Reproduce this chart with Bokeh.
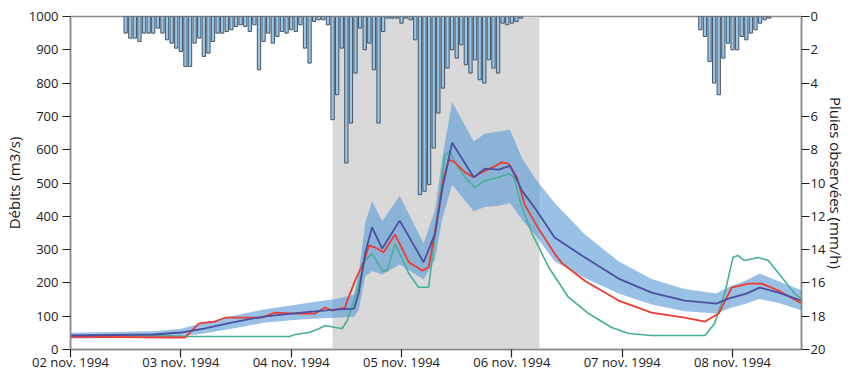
from bokeh.plotting import figure
from bokeh.models import Range1d, LinearAxis, FixedTicker, BoxAnnotation
from bokeh.embed import file_html
from bokeh.resources import INLINE

# ---------------- data ----------------
# time in hours since 02 nov. 1994 00:00
day_ticks = [0, 24, 48, 72, 96, 120, 144]
day_labels = ["02 nov. 1994", "03 nov. 1994", "04 nov. 1994", "05 nov. 1994",
              "06 nov. 1994", "07 nov. 1994", "08 nov. 1994"]

# hourly observed rain (mm/h)
rain_hours_a = list(range(12, 99))
rain_a = [1.0, 1.3, 1.3, 1.5, 1.0, 1.0, 1.0, 0.7, 1.0, 1.4,
          1.6, 1.9, 2.1, 3.0, 3.0, 1.6, 1.3, 2.4, 2.2, 1.5,
          1.0, 1.0, 0.9, 0.8, 0.6, 0.5, 0.6, 0.9, 0.5, 3.2,
          1.5, 1.0, 1.6, 1.2, 0.9, 1.0, 0.8, 0.9, 0.5, 1.9,
          2.8, 0.3, 0.2, 0.2, 0.5,
          6.2, 4.7, 1.9, 8.8, 6.4, 3.4, 0.7, 2.0, 1.6, 3.2,
          6.4, 0.9, 0.1, 0.1, 0.1, 0.4, 0.1, 0.2, 1.4, 10.7,
          10.5, 10.1, 7.9, 5.8, 4.3, 3.1, 2.0, 2.5, 1.7, 2.9,
          3.4, 2.6, 3.8, 4.0, 2.6, 3.1, 3.4, 0.4, 0.5, 0.4,
          0.3, 0.1]
rain_hours_b = list(range(137, 153))
rain_b = [0.8, 1.2, 2.7, 4.0, 4.7, 2.5, 1.6, 2.0, 2.0, 1.2,
          1.4, 1.0, 0.8, 0.4, 0.2, 0.1]

# shaded period (hours)
shade_start = 57
shade_end = 102

# median simulated discharge with uncertainty band (m3/s)
band_h = [0, 18, 24, 29, 35, 42, 48, 52.5, 57.6, 61.7, 62.7, 64.1, 65.6, 67.8, 71.6,
          76.8, 79.3, 80.8, 83, 87.7, 90.1, 93.2, 95.6, 98.2, 101, 105.3, 111.9,
          119.2, 126.4, 133.6, 140.5, 143.1, 147, 149.9, 154, 159]
median_q = [42, 45, 51, 63, 81, 99, 108, 114, 120, 123, 170, 290, 367, 303, 387,
            262, 348, 477, 621, 517, 543, 540, 552, 477, 425, 336, 276,
            213, 171, 147, 138, 153, 168, 186, 171, 147]
upper_q = [50, 55, 62, 80, 100, 120, 132, 142, 152, 165, 230, 380, 445, 385, 462,
           318, 420, 570, 743, 625, 648, 655, 660, 575, 515, 440, 345,
           265, 212, 182, 168, 188, 208, 228, 205, 178]
lower_q = [33, 35, 40, 48, 62, 80, 88, 92, 95, 98, 120, 220, 235, 225, 255,
           210, 270, 390, 495, 415, 428, 432, 440, 390, 345, 265, 215,
           168, 135, 115, 108, 122, 138, 152, 140, 118]

red_h = [0, 24.9, 27.9, 29.3, 31.5, 33.7, 38, 41.7, 44.5, 48.9, 53.2, 55.4, 56.9, 59.7,
         60.2, 61.9, 63.9, 64.9, 66.2, 68.1, 70.6, 73.6, 76.5, 77.9, 79.3, 81.2, 82.3,
         83.6, 85.8, 87.7, 89.5, 91.7, 93.8, 95.3, 97.1, 98.8, 101.8, 105.3, 107, 112,
         119.2, 126.4, 133.6, 138, 141, 143.8, 147.5, 150.3, 154, 159]
red_q = [38, 36, 78, 81, 84, 96, 96, 96, 111, 108, 108, 126, 117, 126,
         147, 207, 267, 312, 307, 292, 345, 262, 237, 247, 357, 517, 570,
         562, 532, 517, 532, 546, 562, 558, 517, 435, 363, 288, 258, 205,
         147, 111, 96, 84, 108, 186, 198, 198, 177, 138]

teal_h = [0, 20, 25.8, 47.6, 48.9, 51.9, 54.1, 55.4, 57.6, 59.1, 60.2, 61.9, 64.1, 65.6,
          67.8, 68.9, 70.6, 73.6, 75.7, 77.9, 79.7, 81.4, 82.5, 83.6, 85.8, 88, 90.1,
          93.2, 95.3, 96.4, 98.2, 100.4, 104, 108.3, 112.7, 117.7, 121.4, 126.4, 138,
          140.1, 142.3, 144.1, 145.2, 146.6, 149.6, 151.8, 154.7, 157.5, 159]
teal_q = [42, 42, 39, 39, 45, 51, 63, 72, 66, 63, 87, 157, 267, 288,
          237, 237, 318, 228, 187, 187, 387, 582, 597, 562, 517, 487, 507,
          517, 528, 517, 427, 348, 247, 157, 108, 66, 48, 42, 42,
          78, 168, 277, 282, 267, 276, 267, 217, 168, 153]

# ---------------- figure ----------------
FONT = "Open Sans"
p = figure(width=850, height=373, output_backend="svg", toolbar_location=None,
           x_range=Range1d(0, 159), y_range=Range1d(0, 1000),
           min_border_left=68, min_border_right=49, min_border_top=16, min_border_bottom=24,
           background_fill_color="white")
p.grid.visible = False
p.outline_line_color = "#8a8a8a"
p.outline_line_width = 1.5
p.extra_y_ranges = {"rain": Range1d(start=20, end=0)}

# shaded period
p.add_layout(BoxAnnotation(left=shade_start, right=shade_end, fill_color="#d9d9d9",
                           fill_alpha=1.0, line_color=None, level="underlay"))

# uncertainty band
p.varea(x=band_h, y1=lower_q, y2=upper_q, fill_color="#5b9bd5", fill_alpha=0.62)

# rain bars
p.vbar(x=rain_hours_a + rain_hours_b, top=rain_a + rain_b, bottom=0, width=0.72,
       fill_color="#96c6ea", line_color="#3c4654", line_width=0.9, y_range_name="rain")

# discharge lines
p.line(teal_h, teal_q, line_color="#45b097", line_width=1.6)
p.line(red_h, red_q, line_color="#ee3b2f", line_width=1.8)
p.line(band_h, median_q, line_color="#4a4fa0", line_width=1.8)

# axes
xa = p.xaxis[0]
xa.ticker = FixedTicker(ticks=day_ticks)
xa.major_label_overrides = {t: l for t, l in zip(day_ticks, day_labels)}
ya = p.yaxis[0]
ya.ticker = FixedTicker(ticks=list(range(0, 1001, 100)))
ya.axis_label = "Débits (m3/s)"

ra = LinearAxis(y_range_name="rain", ticker=FixedTicker(ticks=list(range(0, 21, 2))),
                axis_label="Pluies observées (mm/h)")
p.add_layout(ra, "right")

for ax in (xa, ya, ra):
    ax.axis_line_color = "#8a8a8a"
    ax.axis_line_width = 1.5
    ax.major_tick_line_color = "#222222"
    ax.major_tick_line_width = 1.2
    ax.major_tick_out = 8
    ax.major_tick_in = 0
    ax.minor_tick_line_color = None
    ax.major_label_text_font = FONT
    ax.major_label_text_font_size = "13px"
    ax.major_label_text_color = "#1a1a1a"
    ax.axis_label_text_font = FONT
    ax.axis_label_text_font_size = "15px"
    ax.axis_label_text_font_style = "normal"
    ax.axis_label_text_color = "#1a1a1a"

xa.major_label_standoff = -5
ya.major_label_standoff = 4
ya.axis_label_standoff = 2
ra.major_label_standoff = 1
ra.axis_label_standoff = -2

open("out.html", "w").write(file_html(p, INLINE))
